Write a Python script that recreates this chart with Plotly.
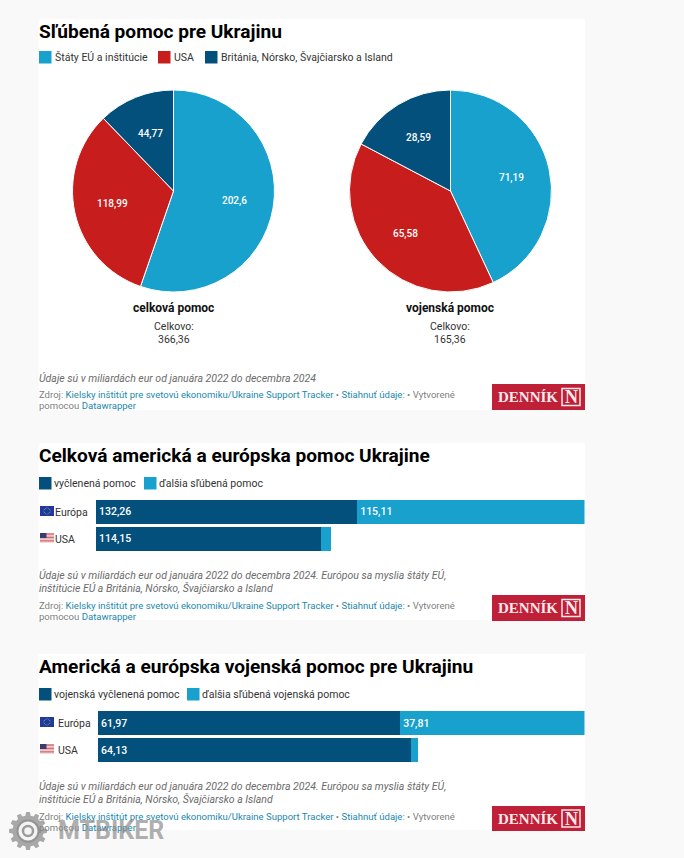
import numpy as np
import plotly.graph_objects as go

W, H = 684, 858
LIGHT, RED, DARK = "#18a1cd", "#c71e1d", "#04507c"
LINK, GREY = "#1b87ad", "#6b6b6b"

pie_groups = ["Štáty EÚ a inštitúcie", "USA", "Británia, Nórsko, Švajčiarsko a Island"]
pie_total_vals = [202.6, 118.99, 44.77]
pie_military_vals = [71.19, 65.58, 28.59]
pie_names = ["celková pomoc", "vojenská pomoc"]
pie_sums = ["366,36", "165,36"]

regions = ["Európa", "USA"]
total_allocated = [132.26, 114.15]
total_pledged = [115.11, 4.84]
military_allocated = [61.97, 64.13]
military_pledged = [37.81, 1.45]

titles = ["Sľúbená pomoc pre Ukrajinu", "Celková americká a európska pomoc Ukrajine",
          "Americká a európska vojenská pomoc pre Ukrajinu"]
note_1 = ["Údaje sú v miliardách eur od januára 2022 do decembra 2024"]
note_2 = ["Údaje sú v miliardách eur od januára 2022 do decembra 2024. Európou sa myslia štáty EÚ,",
          "inštitúcie EÚ a Británia, Nórsko, Švajčiarsko a Island"]
source_1 = ("Zdroj: <span style='color:%s'>Kielsky inštitút pre svetovú ekonomiku/Ukraine Support Tracker</span>"
            " • <span style='color:%s'>Stiahnuť údaje:</span> • Vytvorené") % (LINK, LINK)
source_2 = "pomocou <span style='color:%s'>Datawrapper</span>" % LINK


def px(x):
    return x / W


def py(y):
    return 1 - y / H


shapes, ann = [], []


def rect(x0, y0, x1, y1, color, **kw):
    shapes.append(dict(type="rect", xref="paper", yref="paper", x0=px(x0), x1=px(x1), y0=py(y0), y1=py(y1),
                       fillcolor=color, line=dict(width=0), layer=kw.pop("layer", "below"), **kw))


def text(x, y, s, size=10.5, color="#333333", anchor="left", family="Roboto", **font):
    if anchor == "left":
        x -= 1.5
    ann.append(dict(xref="paper", yref="paper", x=px(x), y=py(y), text=s, showarrow=False, xanchor=anchor,
                    yanchor="middle", align=anchor, borderpad=0,
                    font=dict(size=size, color=color, family=family, **font)))


# white panels
for y0, y1 in [(19, 410), (443, 620), (654, 830)]:
    rect(38.5, y0, 585, y1, "white")

# titles
for y, t in zip([31, 455, 666], titles):
    text(39.5, y, t, size=19.1, color="#000000", weight=700)


# legends
def legend(y, items, offset=15.5):
    for x, label, color in items:
        rect(x, y - 6, x + 12.5, y + 6.5, color)
        text(x + offset, y, label, size=10.5, color="#333333")


legend(57, [(39, pie_groups[0], LIGHT), (158, pie_groups[1], RED), (205, pie_groups[2], DARK)], offset=16.5)
legend(483, [(39, "vyčlenená pomoc", DARK), (144, "ďalšia sľúbená pomoc", LIGHT)])
legend(694, [(39, "vojenská vyčlenená pomoc", DARK), (187, "ďalšia sľúbená vojenská pomoc", LIGHT)])

fig = go.Figure()

# pies
PIE_R = 101
centers = [173.5, 450.5]
for cx, vals, name, total in zip(centers, [pie_total_vals, pie_military_vals], pie_names, pie_sums):
    fig.add_trace(go.Pie(values=vals, labels=pie_groups, sort=False, direction="clockwise", rotation=0,
                         marker=dict(colors=[LIGHT, RED, DARK], line=dict(color="white", width=1)),
                         textinfo="none", showlegend=False, hoverinfo="label+value",
                         domain=dict(x=[px(cx - PIE_R), px(cx + PIE_R)], y=[py(191 + PIE_R), py(191 - PIE_R)])))
    cum = np.cumsum([0] + vals)
    for i, v in enumerate(vals):
        a = 2 * np.pi * (cum[i] + v / 2) / cum[-1]
        text(cx + 62 * np.sin(a), 191 - 62 * np.cos(a), f"{v:g}".replace(".", ","), size=10,
             color="white", anchor="center", weight=500)
    text(cx, 308, name, size=12, color="#111111", anchor="center", weight=700)
    text(cx, 326, "Celkovo:", size=10.5, anchor="center")
    text(cx, 339, total, size=10.5, anchor="center")


# stacked bars
def bars(axis_id, allocated, pledged, x0, y0, y1):
    xa, ya = "x" + axis_id, "y" + axis_id
    for vals, color in [(allocated, DARK), (pledged, LIGHT)]:
        labels = [f"{v:g}".replace(".", ",") if v > 10 else "" for v in vals]
        fig.add_trace(go.Bar(y=regions, x=vals, orientation="h", xaxis=xa, yaxis=ya, marker=dict(color=color, line=dict(width=0)),
                             text=labels, textposition="inside", insidetextanchor="start", textangle=0,
                             constraintext="none", showlegend=False,
                             textfont=dict(color="white", size=10.5, family="Roboto", weight=500)))
    dom_x = [px(x0), px(584.5)]
    dom_y = [py(y1), py(y0)]
    total = max(a + b for a, b in zip(allocated, pledged))
    fig.update_layout({
        "xaxis" + axis_id: dict(domain=dom_x, range=[0, total], visible=False, fixedrange=True),
        "yaxis" + axis_id: dict(domain=dom_y, autorange="reversed", visible=False, fixedrange=True, anchor=xa),
    })


bars("", total_allocated, total_pledged, 96, 498.5, 552.5)
bars("2", military_allocated, military_pledged, 98, 709.5, 763.5)
fig.update_layout(barmode="stack", bargap=0.11)


# flags
def eu_flag(x, y):
    rect(x, y, x + 14, y + 10, "#1d3a9e", layer="above")
    for a in np.linspace(0, 2 * np.pi, 12, endpoint=False):
        cx, cy = x + 7 + 3.2 * np.cos(a), y + 5 + 3.2 * np.sin(a)
        rect(cx - .35, cy - .35, cx + .35, cy + .35, "#e8d84a", layer="above")


def us_flag(x, y):
    for i in range(7):
        rect(x, y + i * 10 / 7, x + 14, y + (i + .5) * 10 / 7, "#c9343f", layer="above")
        rect(x, y + (i + .5) * 10 / 7, x + 14, y + (i + 1) * 10 / 7, "#f2e6e6", layer="above")
    rect(x, y, x + 6.5, y + 5, "#3c3b6e", layer="above")


eu_flag(40, 506); us_flag(40, 533)
text(55, 512, regions[0], size=10.5); text(55, 539.5, regions[1], size=10.5)
eu_flag(40, 717); us_flag(40, 744)
text(58, 723.5, regions[0], size=10.5); text(58, 750.5, regions[1], size=10.5)

# notes and source lines
for y, line in [(378, note_1[0]), (575, note_2[0]), (587.5, note_2[1]), (786, note_2[0]), (799, note_2[1])]:
    text(39.5, y, line, size=10.5, color=GREY, style="italic")
for y in [394, 605, 816]:
    text(39.5, y, source_1, size=9.55, color="#808080")
    text(39.5, y + 11, source_2, size=9.55, color="#808080")


# logos
for y0, y1 in [(384, 410), (595, 621), (806, 831)]:
    mid = (y0 + y1) / 2
    rect(492, y0, 585, y1, "#c01f38", layer="above")
    text(528, mid, "DENNÍK", size=15, color="#f6e9ea", anchor="center", family="Liberation Serif", weight=700)
    shapes.append(dict(type="rect", xref="paper", yref="paper", x0=px(562), x1=px(580), y0=py(mid - 8.5), y1=py(mid + 8.5),
                       line=dict(color="#f6e9ea", width=1.5), fillcolor="rgba(0,0,0,0)", layer="above"))
    text(571, mid, "N", size=18, color="#f6e9ea", anchor="center", family="Liberation Serif", weight=700)

# watermark
gx, gy = 28, 831
teeth = 12
pts = []
for i in range(teeth):
    base = 2 * np.pi * i / teeth
    for off, rad in [(-.17, 15.5), (-.1, 19), (.1, 19), (.17, 15.5)]:
        pts.append((gx + rad * np.cos(base + off), gy + rad * np.sin(base + off)))
gear = "M " + " L ".join(f"{px(a):.4f},{py(b):.4f}" for a, b in pts) + " Z"
shapes.append(dict(type="path", xref="paper", yref="paper", path=gear, fillcolor="rgba(140,140,140,.75)",
                   line=dict(width=0), layer="above"))
shapes.append(dict(type="circle", xref="paper", yref="paper", x0=px(gx - 10.5), x1=px(gx + 10.5), y0=py(gy + 10.5), y1=py(gy - 10.5),
                   fillcolor="#f4f4f4", line=dict(color="rgba(140,140,140,.85)", width=2), layer="above"))
shapes.append(dict(type="circle", xref="paper", yref="paper", x0=px(gx - 5), x1=px(gx + 5), y0=py(gy + 5), y1=py(gy - 5),
                   fillcolor="#f4f4f4", line=dict(color="rgba(140,140,140,.85)", width=2.5), layer="above"))
text(58, 830, "MTBIKER", size=25, color="rgba(140,140,140,.7)", weight=700)

fig.update_layout(width=W, height=H, margin=dict(l=0, r=0, t=0, b=0), paper_bgcolor="#f9f9f9",
                  plot_bgcolor="rgba(0,0,0,0)", separators=", ", shapes=shapes, annotations=ann,
                  font=dict(family="Roboto"))
fig.write_html("out.html", post_script="document.body.style.margin='0';document.body.style.background='#f9f9f9';",
               config=dict(displayModeBar=False))
